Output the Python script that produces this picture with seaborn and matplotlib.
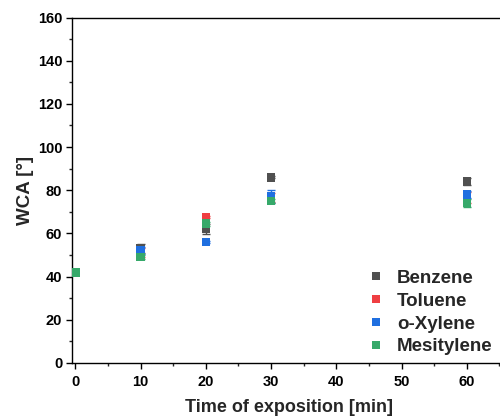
import matplotlib
matplotlib.use("Agg")
import matplotlib.pyplot as plt
import seaborn as sns
import pandas as pd
from matplotlib.ticker import MultipleLocator

time_min = [0, 10, 20, 30, 60]
solvents = ["Benzene", "Toluene", "o-Xylene", "Mesitylene"]
benzene = [42, 53, 62, 86, 84]
toluene = [42, 51, 67.5, 76.5, 76.5]
oxylene = [42, 52, 56, 77, 78]
mesitylene = [42, 49, 64.5, 75, 74]
benzene_err = [0.5, 2, 2.5, 0.5, 1.5]
toluene_err = [0.5, 2, 0.5, 2, 2.5]
oxylene_err = [0.5, 1.5, 0.5, 3, 1.5]
mesitylene_err = [0.5, 1, 1, 1, 2]

colors = {"Benzene": "#505050", "Toluene": "#ef3e42", "o-Xylene": "#1f6fe0", "Mesitylene": "#36a96a"}

values = [benzene, toluene, oxylene, mesitylene]
errors = [benzene_err, toluene_err, oxylene_err, mesitylene_err]
rows = []
for s, v, e in zip(solvents, values, errors):
    for t, y, err in zip(time_min, v, e):
        rows.append({"time": t, "WCA": y, "err": err, "Solvent": s})
df = pd.DataFrame(rows)

sns.set_style("white")
plt.rcParams["font.family"] = ["Liberation Sans", "DejaVu Sans"]
plt.rcParams["font.weight"] = "bold"

fig = plt.figure(figsize=(5, 4.19), dpi=100)
ax = fig.add_axes([0.144, 0.134, 0.868, 0.824])

for s in solvents:
    d = df[df.Solvent == s]
    ax.errorbar(d["time"], d["WCA"], yerr=d["err"], fmt="none", ecolor=colors[s],
                elinewidth=1, capsize=3, capthick=1, zorder=2)
sns.scatterplot(data=df, x="time", y="WCA", hue="Solvent", hue_order=solvents,
                palette=colors, marker="s", s=38, edgecolor="none", linewidth=0,
                ax=ax, zorder=3)

ax.set_xlim(-0.5, 66)
ax.set_ylim(0, 160)
ax.xaxis.set_major_locator(MultipleLocator(10))
ax.xaxis.set_minor_locator(MultipleLocator(5))
ax.yaxis.set_major_locator(MultipleLocator(20))
ax.yaxis.set_minor_locator(MultipleLocator(10))
ax.tick_params(which="major", direction="out", length=4, width=1, bottom=True, left=True,
               labelsize=10.5, colors="black")
ax.tick_params(axis="x", which="major", pad=5)
ax.tick_params(axis="y", which="major", pad=3)
ax.tick_params(which="minor", direction="out", length=2.5, width=1, bottom=True, left=True)
for lab in ax.get_xticklabels() + ax.get_yticklabels():
    lab.set_fontweight("bold")
for sp in ax.spines.values():
    sp.set_color("black")
    sp.set_linewidth(1)

ax.set_xlabel("Time of exposition [min]", fontsize=13, fontweight="bold", labelpad=7)
ax.set_ylabel("WCA [°]", fontsize=13.5, fontweight="bold", labelpad=3)

leg = ax.legend(loc="lower right", bbox_to_anchor=(0.999, -0.016), frameon=False,
                prop={"weight": "bold", "size": 13.5}, handletextpad=0.6,
                handlelength=1.0, labelspacing=0.3, markerscale=1.0, borderaxespad=0.3)

fig.savefig("out.png", dpi=100)
